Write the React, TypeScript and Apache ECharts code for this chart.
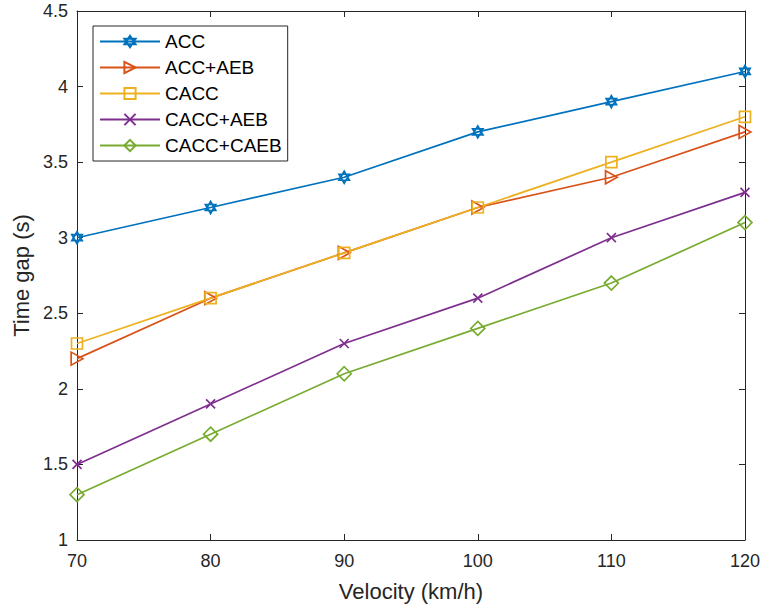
import React, { useEffect, useRef } from "react";
import * as echarts from "echarts";

const velocities = [70, 80, 90, 100, 110, 120];
const seriesNames = ["ACC", "ACC+AEB", "CACC", "CACC+AEB", "CACC+CAEB"];
const accValues = [3.0, 3.2, 3.4, 3.7, 3.9, 4.1];
const accAebValues = [2.2, 2.6, 2.9, 3.2, 3.4, 3.7];
const caccValues = [2.3, 2.6, 2.9, 3.2, 3.5, 3.8];
const caccAebValues = [1.5, 1.9, 2.3, 2.6, 3.0, 3.3];
const caccCaebValues = [1.3, 1.7, 2.1, 2.4, 2.7, 3.1];
const xTicks = { min: 70, max: 120, interval: 10 };
const yTicks = { min: 1, max: 4.5, interval: 0.5 };

const colors = ["#0072BD", "#D95319", "#EDB120", "#7E2F8E", "#77AC30"];
const symbols = [
  "path://M10,0L18.66,15L1.34,15ZM10,20L18.66,5L1.34,5Z",
  "path://M0,0L18,10L0,20Z",
  "path://M0,0L20,0L20,20L0,20Z",
  "path://M0,0L20,20M0,20L20,0",
  "path://M10,0L20,10L10,20L0,10Z",
];
const symbolSizes = [12, 13, 11, 9, 14];

const axisColor = "#262626";
const font = "'Liberation Sans', Arial, Helvetica, sans-serif";

export default function App() {
  const ref = useRef<HTMLDivElement>(null);
  useEffect(() => {
    if (!ref.current) return;
    const chart = echarts.init(ref.current, undefined, { renderer: "svg" });
    const allValues = [accValues, accAebValues, caccValues, caccAebValues, caccCaebValues];
    const series = allValues.map((vals, i) => ({
      name: seriesNames[i],
      type: "line",
      data: velocities.map((v, j) => [v, vals[j]]),
      symbol: symbols[i],
      symbolSize: symbolSizes[i],
      symbolKeepAspect: true,
      showAllSymbol: true,
      color: colors[i],
      lineStyle: { color: colors[i], width: 1.7 },
      itemStyle: { color: "rgba(255,255,255,0)", borderColor: colors[i], borderWidth: 1.7 },
      emphasis: { disabled: true },
      z: 3,
    }));
    const baseX = {
      type: "value",
      min: xTicks.min,
      max: xTicks.max,
      interval: xTicks.interval,
      splitLine: { show: false },
      axisLine: { show: true, onZero: false, lineStyle: { color: axisColor, width: 1 } },
      axisTick: { show: true, inside: true, length: 6, lineStyle: { color: axisColor } },
    };
    const baseY = {
      type: "value",
      min: yTicks.min,
      max: yTicks.max,
      interval: yTicks.interval,
      splitLine: { show: false },
      axisLine: { show: true, onZero: false, lineStyle: { color: axisColor, width: 1 } },
      axisTick: { show: true, inside: true, length: 6, lineStyle: { color: axisColor } },
    };
    chart.setOption({
      animation: false,
      backgroundColor: "#ffffff",
      textStyle: { fontFamily: font },
      grid: { left: 77, right: 18, top: 11, bottom: 68, containLabel: false },
      legend: {
        orient: "vertical",
        left: 93,
        top: 26,
        data: seriesNames,
        itemWidth: 60,
        itemHeight: 14,
        itemGap: 7,
        padding: [6, 6, 6, 6],
        borderColor: axisColor,
        borderWidth: 1,
        backgroundColor: "#ffffff",
        textStyle: { fontSize: 19, color: "#000000", fontFamily: font },
      },
      xAxis: [
        {
          ...baseX,
          position: "bottom",
          name: "Velocity (km/h)",
          nameLocation: "middle",
          nameGap: 40,
          nameTextStyle: { fontSize: 22, color: axisColor, fontFamily: font },
          axisLabel: { fontSize: 18, color: axisColor, margin: 12, fontFamily: font },
        },
        { ...baseX, position: "top", axisLabel: { show: false } },
      ],
      yAxis: [
        {
          ...baseY,
          position: "left",
          name: "Time gap (s)",
          nameLocation: "middle",
          nameGap: 45,
          nameTextStyle: { fontSize: 22, color: axisColor, fontFamily: font },
          axisLabel: { fontSize: 18, color: axisColor, margin: 9, fontFamily: font },
        },
        { ...baseY, position: "right", axisLabel: { show: false } },
      ],
      series,
    });
    return () => chart.dispose();
  }, []);
  return (
    <div
      ref={ref}
      style={{ position: "absolute", left: 0, top: 0, width: 763, height: 608 }}
    />
  );
}
